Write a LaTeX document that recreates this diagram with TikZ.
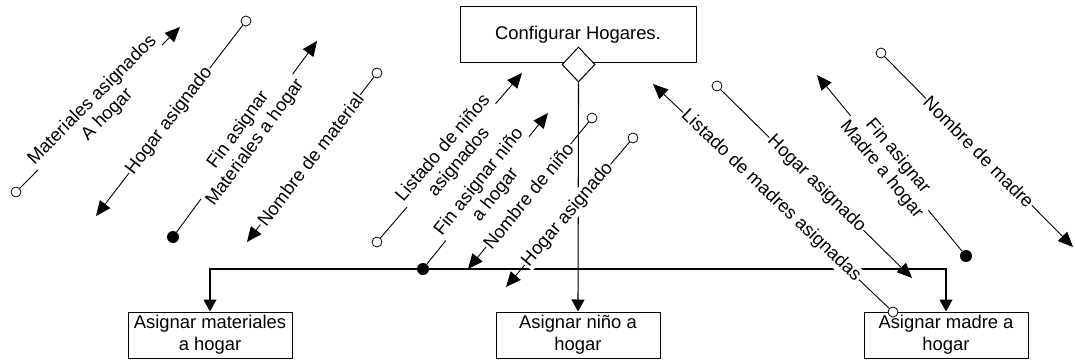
\documentclass[tikz,border=0pt]{standalone}
\usepackage{fontspec}
\setmainfont{Liberation Sans}
\usetikzlibrary{arrows.meta,shapes.geometric}
\begin{document}
\begin{tikzpicture}[x=1pt,y=-1pt,
  box/.style={draw, line width=1pt, align=center, inner sep=0pt, fill=white,
    font=\fontsize{18.4}{22}\selectfont},
  main/.style={line width=1.1pt, -{Triangle[length=12pt,width=13pt]}},
  flow/.style={line width=0.9pt, -{Triangle[length=15pt,width=13pt]}},
  lbl/.style={sloped, fill=white, inner sep=1pt, align=center,
    font=\fontsize{18.4}{21}\selectfont},
  datac/.style={circle, draw, fill=white, line width=0.8pt, minimum size=10pt, inner sep=0pt},
  ctrlc/.style={circle, fill=black, minimum size=12pt, inner sep=0pt}]
\useasboundingbox (0,0) rectangle (1075,361);
\fill[white] (0,0) rectangle (1075,361);

% modules
\node[box, minimum width=236pt, minimum height=55pt] (top) at (578,34.5) {Configurar Hogares.};
\node[diamond, draw, fill=white, line width=1pt, minimum width=33pt, minimum height=35pt, inner sep=0pt] (dia) at (578.5,64.5) {};
\node[box, minimum width=164pt, minimum height=46pt] (lft) at (210,335) {Asignar materiales\\a hogar};
\node[box, minimum width=164pt, minimum height=46pt] (mid) at (578,335) {Asignar niño a\\hogar};
\node[box, minimum width=164pt, minimum height=46pt] (rgt) at (946,335) {Asignar madre a\\hogar};

% calls
\coordinate (j) at (578,269);
\draw[main] (dia.south) -- (mid.north);
\draw[main] (j) -| (lft.north);
\draw[main] (j) -| (rgt.north);

% couples: left group
\node[datac] (c1) at (16,192) {}; \coordinate (t1) at (180,27);
\draw[flow] (c1) -- node[lbl]{Materiales asignados\\A hogar} (t1);
\node[datac] (c2) at (246,21) {}; \coordinate (t2) at (96,216);
\draw[flow] (c2) -- node[lbl]{Hogar asignado} (t2);
\node[ctrlc] (c3) at (173,237) {}; \coordinate (t3) at (317,41);
\draw[flow] (c3) -- node[lbl]{Fin asignar\\Materiales a hogar} (t3);
\node[datac] (c4) at (377,73) {}; \coordinate (t4) at (247,242);
\draw[flow] (c4) -- node[lbl]{Nombre de material} (t4);

% couples: middle group
\node[datac] (c5) at (377,242) {}; \coordinate (t5) at (522,73);
\draw[flow] (c5) -- node[lbl]{Listado de niños\\asignados} (t5);
\node[ctrlc] (c6) at (423,269) {}; \coordinate (t6) at (548,113);
\draw[flow] (c6) -- node[lbl]{Fin asignar niño\\a hogar} (t6);
\node[datac] (c7) at (592,118) {}; \coordinate (t7) at (468,269);
\draw[flow] (c7) -- node[lbl]{Nombre de niño} (t7);
\node[datac] (c8) at (633,138) {}; \coordinate (t8) at (506,287);
\draw[flow] (c8) -- node[lbl]{Hogar asignado} (t8);

% couples: right group
\node[datac] (c9) at (893,312) {}; \coordinate (t9) at (653,84);
\draw[flow] (c9) -- node[lbl]{Listado de madres asignadas} (t9);
\node[datac] (c10) at (717,86) {}; \coordinate (t10) at (912,278);
\draw[flow] (c10) -- node[lbl]{Hogar asignado} (t10);
\node[ctrlc] (c11) at (966,256) {}; \coordinate (t11) at (817,75);
\draw[flow] (c11) -- node[lbl]{Fin asignar\\Madre a hogar} (t11);
\node[datac] (c12) at (881,53) {}; \coordinate (t12) at (1073,247);
\draw[flow] (c12) -- node[lbl]{Nombre de madre} (t12);
\end{tikzpicture}
\end{document}
